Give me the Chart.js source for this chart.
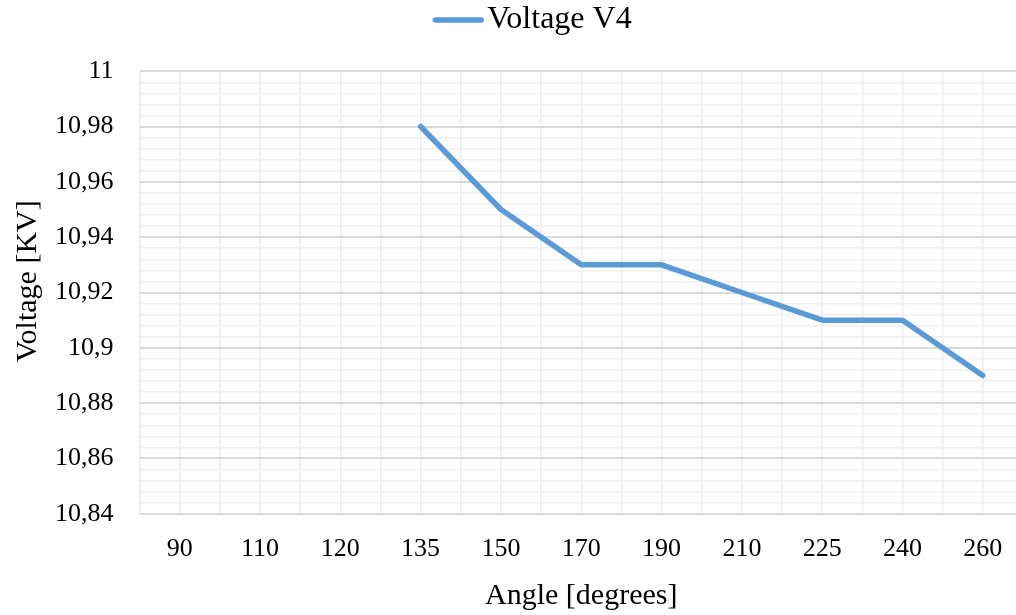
<!DOCTYPE html>
<html>
<head>
<meta charset="utf-8">
<script src="https://cdn.jsdelivr.net/npm/chart.js@4.4.1/dist/chart.umd.min.js"></script>
<style>
  html, body { margin: 0; padding: 0; background: #fff; overflow: hidden; }
  #wrap { width: 1043px; height: 615px; position: relative; }
</style>
</head>
<body>
<div id="wrap"><canvas id="chart"></canvas></div>
<script>
// Angle categories along the x axis
const angles = ['90', '110', '120', '135', '150', '170', '190', '210', '225', '240', '260'];
// Measured voltage V4 [KV]; no reading for the first three angles
const voltageV4 = [null, null, null, 10.98, 10.95, 10.93, 10.93, 10.92, 10.91, 10.91, 10.89];

const FONT = '"Liberation Serif", "DejaVu Serif", serif';
const LINE_COLOR = '#5b9bd5';
const points = voltageV4.map((v, i) => ({ x: i, y: v }));

const fmt = v => {
  const s = (Math.round(v * 100) / 100).toFixed(2).replace(/0+$/, '').replace(/\.$/, '');
  return s.replace('.', ',');
};
const isMajor = v => Math.round(v * 1000) % 20 === 0;

// legend sample: a short thick line, sitting at the right end of the swatch
const swatch = document.createElement('canvas');
swatch.width = 86;
swatch.height = 8;
(() => {
  const c = swatch.getContext('2d');
  c.strokeStyle = LINE_COLOR;
  c.lineWidth = 5.5;
  c.lineCap = 'round';
  c.beginPath();
  c.moveTo(37, 4);
  c.lineTo(83, 4);
  c.stroke();
})();

new Chart(document.getElementById('chart'), {
  type: 'line',
  data: {
    datasets: [{
      label: 'Voltage V4',
      data: points,
      borderColor: LINE_COLOR,
      backgroundColor: LINE_COLOR,
      borderWidth: 5.5,
      borderCapStyle: 'round',
      borderJoinStyle: 'round',
      pointRadius: 0,
      spanGaps: false,
      tension: 0
    }]
  },
  options: {
    responsive: true,
    maintainAspectRatio: false,
    animation: false,
    layout: { padding: { top: 2, right: 0, bottom: 0, left: 0 } },
    plugins: {
      legend: {
        position: 'top',
        labels: {
          font: { family: FONT, size: 32 },
          color: '#000',
          usePointStyle: true,
          pointStyleWidth: 60,
          boxHeight: 8,
          padding: 2,
          generateLabels: () => [{
            text: 'Voltage V4',
            fillStyle: LINE_COLOR,
            strokeStyle: LINE_COLOR,
            lineWidth: 0,
            pointStyle: swatch,
            datasetIndex: 0
          }]
        }
      },
      // empty spacer between the legend and the plot
      title: {
        display: true,
        text: ' ',
        weight: 500,
        font: { size: 1 },
        padding: { top: 0, bottom: 24 }
      },
      tooltip: { enabled: false }
    },
    scales: {
      x: {
        type: 'linear',
        min: -0.5,
        max: angles.length - 0.5,
        afterBuildTicks: axis => {
          const t = [];
          for (let v = -0.5; v <= angles.length - 0.5 + 1e-9; v += 0.5) t.push({ value: v });
          axis.ticks = t;
        },
        ticks: {
          autoSkip: false,
          maxRotation: 0,
          padding: 20,
          color: '#000',
          font: { family: FONT, size: 26 },
          callback: v => Number.isInteger(v) ? angles[v] : ''
        },
        grid: {
          color: '#ececec',
          lineWidth: 1.5,
          drawTicks: false
        },
        border: { display: false },
        title: {
          display: true,
          text: 'Angle [degrees]',
          color: '#000',
          font: { family: FONT, size: 30 },
          padding: { top: -7, bottom: 1 }
        }
      },
      y: {
        min: 10.84,
        max: 11,
        afterBuildTicks: axis => {
          const t = [];
          for (let k = 0; k <= 40; k++) t.push({ value: 10.84 + k * 0.004 });
          axis.ticks = t;
        },
        ticks: {
          autoSkip: false,
          padding: 26,
          color: '#000',
          font: { family: FONT, size: 26 },
          callback: v => isMajor(v) ? fmt(v) : ''
        },
        grid: {
          color: ctx => isMajor(ctx.tick.value) ? '#d9d9d9' : '#efefef',
          lineWidth: ctx => isMajor(ctx.tick.value) ? 2 : 1.5,
          drawTicks: false
        },
        border: { display: false },
        title: {
          display: true,
          // leading spaces lift the rotated label slightly above the axis middle
          text: '   Voltage [KV]',
          color: '#000',
          font: { family: FONT, size: 30 },
          padding: { top: 10, bottom: -17 }
        }
      }
    }
  }
});
</script>
</body>
</html>
